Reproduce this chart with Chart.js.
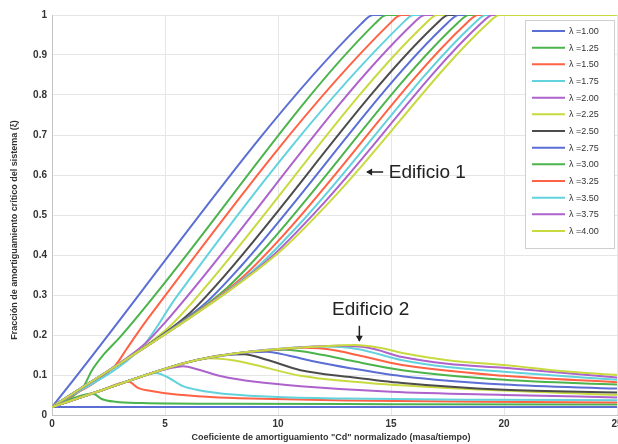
<!DOCTYPE html>
<html>
<head>
<meta charset="utf-8">
<script src="https://cdn.jsdelivr.net/npm/chart.js@4.4.1/dist/chart.umd.min.js"></script>
<style>
  html, body { margin: 0; padding: 0; background: #fff; }
  canvas { display: block; }
</style>
</head>
<body>
<canvas id="chart" width="618" height="444"></canvas>
<script>
// relacion de frecuencias de cada caso
const lambdas = [1.0, 1.25, 1.5, 1.75, 2.0, 2.25, 2.5, 2.75, 3.0, 3.25, 3.5, 3.75, 4.0];

// Edificio 1 : [Cd, xi]
const e1_100 = [[0, 0.02], [13.7, 0.979], [14.2, 1], [25, 1]];
const e1_125 = [[0, 0.02], [1.4, 0.072], [1.75, 0.11], [2.3, 0.152], [3, 0.194], [14.3, 0.979], [14.8, 1], [25, 1]];
const e1_150 = [[0, 0.02], [2.8, 0.124], [3.3, 0.165], [4.2, 0.238], [14.95, 0.979], [15.45, 1], [25, 1]];
const e1_175 = [[0, 0.02], [3.9, 0.164], [4.4, 0.2], [5.5, 0.2945], [15.5, 0.979], [16.0, 1], [25, 1]];
const e1_200 = [[0, 0.02], [3.34, 0.1436], [4.14, 0.1792], [4.94, 0.2274], [16.0, 0.98], [16.5, 1], [25, 1]];
const e1_225 = [[0, 0.02], [4.16, 0.1739], [5.16, 0.2186], [6.16, 0.2785], [16.55, 0.98], [17.05, 1], [25, 1]];
const e1_250 = [[0, 0.02], [4.88, 0.2006], [6.08, 0.254], [7.28, 0.3254], [17.05, 0.98], [17.55, 1], [25, 1]];
const e1_275 = [[0, 0.02], [5.5, 0.2235], [6.9, 0.2853], [8.3, 0.3681], [17.5, 0.98], [18.0, 1], [25, 1]];
const e1_300 = [[0, 0.02], [6.14, 0.2472], [7.74, 0.3176], [9.34, 0.4116], [17.95, 0.98], [18.45, 1], [25, 1]];
const e1_325 = [[0, 0.02], [6.68, 0.2672], [8.48, 0.3468], [10.28, 0.4519], [18.35, 0.98], [18.85, 1], [25, 1]];
const e1_350 = [[0, 0.02], [7.11, 0.2831], [9.11, 0.371], [11.11, 0.487], [18.7, 0.98], [19.2, 1], [25, 1]];
const e1_375 = [[0, 0.02], [7.43, 0.2949], [9.63, 0.3911], [11.83, 0.5179], [19.0, 0.98], [19.5, 1], [25, 1]];
const e1_400 = [[0, 0.02], [7.76, 0.3071], [10.16, 0.4122], [12.56, 0.5496], [19.3, 0.98], [19.8, 1], [25, 1]];

// Edificio 2 : [Cd, xi]
const e2_100 = [[0, 0.02], [25, 0.02]];
const e2_125 = [[0, 0.02], [1.8, 0.054], [2.2, 0.04], [2.8, 0.033], [4, 0.03], [8, 0.028], [15, 0.027], [25, 0.026]];
const e2_150 = [[0, 0.02], [2, 0.058], [3.4, 0.083], [3.8, 0.068], [4.4, 0.06], [5.5, 0.051], [7, 0.045], [8.8, 0.041], [13, 0.036], [19, 0.033], [25, 0.031]];
const e2_175 = [[0, 0.02], [2, 0.058], [4, 0.097], [4.6, 0.105], [5.1, 0.095], [5.8, 0.072], [6.5, 0.062], [8, 0.051], [10, 0.045], [13, 0.041], [19, 0.038], [25, 0.037]];
const e2_200 = [[0, 0.02], [2, 0.058], [4, 0.097], [5.3, 0.118], [5.8, 0.122], [6.5, 0.113], [7.5, 0.097], [9, 0.083], [11, 0.072], [15, 0.058], [20, 0.05], [25, 0.044]];
const e2_225 = [[0, 0.02], [2, 0.058], [4, 0.097], [6, 0.132], [7, 0.142], [8, 0.137], [9, 0.125], [11, 0.098], [14, 0.08], [18, 0.066], [25, 0.05]];
const e2_250 = [[0, 0.02], [2, 0.058], [4, 0.097], [6, 0.132], [7.6, 0.15], [8.5, 0.152], [9.5, 0.138], [11, 0.112], [13.2, 0.095], [15.5, 0.08], [20, 0.063], [25, 0.056]];
const e2_275 = [[0, 0.02], [2, 0.058], [4, 0.097], [6, 0.132], [8, 0.152], [9.5, 0.158], [10.5, 0.148], [11.5, 0.135], [13.2, 0.117], [15.5, 0.097], [20, 0.076], [25, 0.066]];
const e2_300 = [[0, 0.02], [2, 0.058], [4, 0.097], [6, 0.132], [8, 0.153], [10.3, 0.163], [12, 0.15], [13.2, 0.136], [15.5, 0.112], [20, 0.088], [25, 0.076]];
const e2_325 = [[0, 0.02], [2, 0.058], [4, 0.097], [6, 0.132], [8, 0.153], [10, 0.164], [11.2, 0.168], [12.5, 0.162], [13.5, 0.15], [15.5, 0.125], [20, 0.098], [25, 0.082]];
const e2_350 = [[0, 0.02], [2, 0.058], [4, 0.097], [6, 0.132], [8, 0.153], [10, 0.165], [12, 0.171], [13.5, 0.165], [15.5, 0.137], [17.5, 0.12], [20, 0.108], [25, 0.088]];
const e2_375 = [[0, 0.02], [2, 0.058], [4, 0.097], [6, 0.132], [8, 0.153], [10, 0.165], [12.7, 0.173], [14, 0.168], [15.5, 0.145], [17.5, 0.128], [20, 0.118], [25, 0.094]];
const e2_400 = [[0, 0.02], [2, 0.058], [4, 0.097], [6, 0.132], [8, 0.153], [10, 0.165], [12, 0.172], [13.4, 0.175], [14.5, 0.168], [15.5, 0.155], [17.5, 0.137], [20, 0.125], [22.5, 0.11], [25, 0.1]];

const edificio1 = [e1_100, e1_125, e1_150, e1_175, e1_200, e1_225, e1_250, e1_275, e1_300, e1_325, e1_350, e1_375, e1_400];
const edificio2 = [e2_100, e2_125, e2_150, e2_175, e2_200, e2_225, e2_250, e2_275, e2_300, e2_325, e2_350, e2_375, e2_400];

// colores que se repiten cada 7 curvas
const colores = ["#5b6ed4", "#4cb44c", "#ff6244", "#62d2dc", "#ad62cc", "#c8da40", "#4c4c4c"];

const datasets = [];
function agregarCurvas(curvas, mostrar) {
  curvas.forEach(function (pts, i) {
    datasets.push({
      label: "λ =" + lambdas[i].toFixed(2),
      data: pts.map(function (p) { return { x: p[0], y: p[1] }; }),
      borderColor: colores[i % colores.length],
      borderWidth: 2,
      pointRadius: 0,
      cubicInterpolationMode: "monotone",
      fill: false,
      enLeyenda: mostrar,
    });
  });
}
agregarCurvas(edificio1, true);
agregarCurvas(edificio2, false);
// la ultima curva va encima
datasets.forEach(function (d, i) { d.order = -i; });

const fuente = "Liberation Sans, Arial, sans-serif";

// leyenda dentro del grafico
const leyenda = {
  id: "leyenda",
  afterDatasetsDraw(chart) {
    const ctx = chart.ctx;
    const items = chart.data.datasets.filter(function (d) { return d.enLeyenda; });
    const x0 = 525, y0 = 20, w = 89, h = 228;
    ctx.save();
    ctx.fillStyle = "#fff";
    ctx.fillRect(x0, y0, w, h);
    ctx.strokeStyle = "#cfcfcf";
    ctx.lineWidth = 1;
    ctx.strokeRect(x0 + 0.5, y0 + 0.5, w, h);
    ctx.font = "9px " + fuente;
    ctx.textBaseline = "middle";
    items.forEach(function (d, i) {
      const y = 31 + i * 16.67;
      ctx.strokeStyle = d.borderColor;
      ctx.lineWidth = 2;
      ctx.beginPath();
      ctx.moveTo(532, y);
      ctx.lineTo(565, y);
      ctx.stroke();
      ctx.fillStyle = "#333";
      ctx.fillText(d.label, 569, y + 0.5);
    });
    ctx.restore();
  },
};

// textos y flechas de cada edificio, titulos de ejes
const anotaciones = {
  id: "anotaciones",
  afterDraw(chart) {
    const ctx = chart.ctx;
    const xs = chart.scales.x, ys = chart.scales.y;
    ctx.save();
    ctx.fillStyle = "#222";
    ctx.strokeStyle = "#222";
    ctx.font = "19px " + fuente;
    ctx.textBaseline = "middle";
    ctx.textAlign = "left";
    ctx.fillText("Edificio 1", xs.getPixelForValue(14.9), ys.getPixelForValue(0.605));
    ctx.textAlign = "center";
    ctx.fillText("Edificio 2", xs.getPixelForValue(14.1), ys.getPixelForValue(0.2625));

    // flecha izquierda
    let ax = xs.getPixelForValue(13.9), ay = ys.getPixelForValue(0.6075);
    ctx.lineWidth = 1.5;
    ctx.beginPath();
    ctx.moveTo(ax + 17, ay);
    ctx.lineTo(ax + 1, ay);
    ctx.stroke();
    ctx.beginPath();
    ctx.moveTo(ax, ay);
    ctx.lineTo(ax + 6, ay - 3.5);
    ctx.lineTo(ax + 6, ay + 3.5);
    ctx.closePath();
    ctx.fill();

    // flecha abajo
    ax = xs.getPixelForValue(13.6);
    ay = ys.getPixelForValue(0.183);
    ctx.beginPath();
    ctx.moveTo(ax, ay - 16);
    ctx.lineTo(ax, ay - 1);
    ctx.stroke();
    ctx.beginPath();
    ctx.moveTo(ax, ay);
    ctx.lineTo(ax - 3.5, ay - 6);
    ctx.lineTo(ax + 3.5, ay - 6);
    ctx.closePath();
    ctx.fill();

    // titulos de ejes
    ctx.fillStyle = "#333";
    ctx.font = "bold 9px " + fuente;
    ctx.textAlign = "center";
    ctx.fillText('Coeficiente de amortiguamiento "Cd" normalizado (masa/tiempo)', 331, 438);
    ctx.translate(15, 230);
    ctx.rotate(-Math.PI / 2);
    ctx.fillText("Fracción de amortiguamiento crítico del sistema (ξ)", 0, 0);
    ctx.restore();
  },
};

new Chart(document.getElementById("chart"), {
  type: "line",
  data: { datasets: datasets },
  options: {
    responsive: false,
    animation: false,
    devicePixelRatio: 1,
    layout: { padding: { top: 15, right: 1, left: 0, bottom: 0 } },
    plugins: {
      legend: { display: false },
      tooltip: { enabled: false },
    },
    scales: {
      x: {
        type: "linear",
        min: 0,
        max: 25,
        ticks: {
          stepSize: 5,
          color: "#333",
          font: { family: fuente, size: 10, weight: "bold" },
          padding: 3,
          maxRotation: 0,
        },
        grid: { color: "#e6e6e6", drawTicks: false },
        border: { color: "#c4c4c4" },
        afterFit(s) {
          s.height = 29;
          s.paddingLeft = 0;
          s.paddingRight = 0;
        },
      },
      y: {
        type: "linear",
        min: 0,
        max: 1,
        ticks: {
          stepSize: 0.1,
          color: "#333",
          font: { family: fuente, size: 10, weight: "bold" },
          padding: 5,
          callback: function (v) { return String(Math.round(v * 10) / 10); },
        },
        grid: { color: "#e6e6e6", drawTicks: false },
        border: { color: "#c4c4c4" },
        afterFit(s) {
          s.width = 52;
          s.paddingTop = 0;
          s.paddingBottom = 0;
        },
      },
    },
  },
  plugins: [leyenda, anotaciones],
});
</script>
</body>
</html>
